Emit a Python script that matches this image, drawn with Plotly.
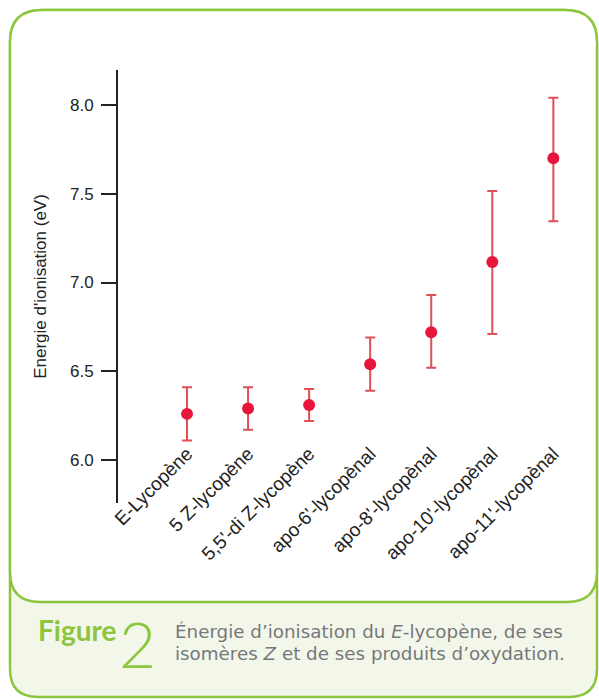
import plotly.graph_objects as go

# composés et énergies d'ionisation
composes = ["E-Lycopène", "5 Z-lycopène", "5,5'-di Z-lycopène", "apo-6'-lycopènal",
            "apo-8'-lycopènal", "apo-10'-lycopènal", "apo-11'-lycopènal"]
energie = [6.26, 6.29, 6.31, 6.54, 6.72, 7.115, 7.70]
err_plus = [0.15, 0.12, 0.09, 0.15, 0.21, 0.40, 0.34]
err_moins = [0.15, 0.12, 0.09, 0.15, 0.20, 0.405, 0.355]
y_ticks = [6.0, 6.5, 7.0, 7.5, 8.0]

W, H = 599, 700
PL, PR, PT, PB = 118, 590, 70, 503   # zone de tracé, en pixels
L, R, T, B = PL, W - PR, PT, H - PB
pw, ph = PR - PL, PB - PT

GREEN = "#8cc63f"
ROUGE = "#e8163c"


def px2paper(x, y):
    return (x - PL) / pw, (PB - y) / ph


def path(points):
    s = ""
    for cmd, pts in points:
        s += cmd
        s += " ".join("%.4f,%.4f" % px2paper(x, y) for x, y in pts) + " "
    return s + "Z"


x0, x1, y0, y1 = 10, 597, 10, 697
r = 32
carte = path([
    ("M", [(x0 + r, y0)]), ("L", [(x1 - r, y0)]), ("Q", [(x1, y0), (x1, y0 + r)]),
    ("L", [(x1, y1 - 28)]), ("Q", [(x1, y1), (x1 - 28, y1)]),
    ("L", [(x0 + 28, y1)]), ("Q", [(x0, y1), (x0, y1 - 28)]),
    ("L", [(x0, y0 + r)]), ("Q", [(x0, y0), (x0 + r, y0)]),
])
yb = 602
zone = path([
    ("M", [(x0 + r, y0)]), ("L", [(x1 - r, y0)]), ("Q", [(x1, y0), (x1, y0 + r)]),
    ("L", [(x1, yb - 30)]), ("Q", [(x1, yb), (x1 - 30, yb)]),
    ("L", [(x0 + 30, yb)]), ("Q", [(x0, yb), (x0, yb - 30)]),
    ("L", [(x0, y0 + r)]), ("Q", [(x0, y0), (x0 + r, y0)]),
])

fig = go.Figure()
fig.add_trace(go.Scatter(
    x=composes, y=energie, mode="markers",
    marker=dict(color=ROUGE, size=12),
    error_y=dict(type="data", array=err_plus, arrayminus=err_moins,
                 color="#df5054", thickness=2, width=5),
    showlegend=False,
))

fig.update_layout(
    width=W, height=H,
    margin=dict(l=L, r=R, t=T, b=B),
    paper_bgcolor="white", plot_bgcolor="rgba(0,0,0,0)",
    font=dict(family="Liberation Sans, Arial", size=17, color="#222"),
    shapes=[
        dict(type="path", path=carte, xref="paper", yref="paper",
             fillcolor="#f3f7ea", line=dict(color=GREEN, width=2.5), layer="below"),
        dict(type="path", path=zone, xref="paper", yref="paper",
             fillcolor="white", line=dict(color=GREEN, width=2.5), layer="below"),
    ],
    annotations=[
        dict(text="<b>Figure</b>", x=px2paper(36, 0)[0], y=px2paper(0, 630)[1],
             xref="paper", yref="paper", xanchor="left", yanchor="middle",
             showarrow=False, font=dict(family="Lato", size=28, color=GREEN)),
        dict(text="2", x=px2paper(117, 0)[0], y=px2paper(0, 643)[1],
             xref="paper", yref="paper", xanchor="left", yanchor="middle",
             showarrow=False, font=dict(family="Lato", size=64, color=GREEN, weight=300)),
        dict(text="Énergie d’ionisation du <i>E</i>-lycopène, de ses",
             x=px2paper(173, 0)[0], y=px2paper(0, 631)[1],
             xref="paper", yref="paper", xanchor="left", yanchor="middle",
             showarrow=False, font=dict(family="DejaVu Sans", size=18.3, color="#76777a")),
        dict(text="isomères <i>Z</i> et de ses produits d’oxydation.",
             x=px2paper(173, 0)[0], y=px2paper(0, 653)[1],
             xref="paper", yref="paper", xanchor="left", yanchor="middle",
             showarrow=False, font=dict(family="DejaVu Sans", size=18.3, color="#76777a")),
    ],
)

fig.update_yaxes(
    range=[5.758, 8.197], tickvals=y_ticks, ticktext=["%.1f" % v for v in y_ticks],
    showline=True, linecolor="#222", linewidth=2, ticks="outside", ticklen=15,
    tickwidth=2, tickcolor="#222", showgrid=False, zeroline=False,
    ticklabelstandoff=4,
    title=dict(text="Energie d'ionisation (eV)", standoff=19, font=dict(size=17)),
)
fig.update_xaxes(
    range=[-1.13, 6.6], anchor="free", position=(PB - 438) / ph,
    showline=False, ticks="", tickangle=-45, showgrid=False, zeroline=False,
    tickfont=dict(size=19),
)

# pas de marge autour du graphique dans la page, pas de barre d'outils
fig.write_html("out.html", config={"displayModeBar": False},
               post_script="document.body.style.margin = '0';")
